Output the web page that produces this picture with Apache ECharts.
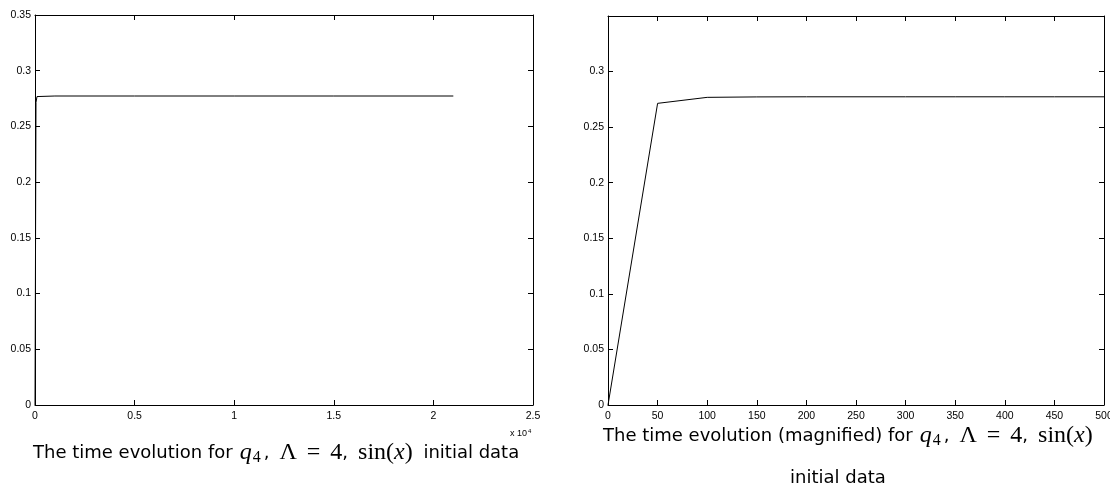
<!DOCTYPE html>
<html><head><meta charset="utf-8">
<script src="https://cdn.jsdelivr.net/npm/echarts@6/dist/echarts.min.js"></script>
<style>html,body{margin:0;padding:0;background:#fff}#c{width:1110px;height:490px}</style>
</head><body><div id="c"></div>
<script>
// Left panel: full time evolution
const leftT = [0, 50, 100, 150, 200, 1000, 5000, 10000, 15000, 21000];
const leftQ = [0, 0.2715, 0.2768, 0.2772, 0.2773, 0.2773, 0.2773, 0.2773, 0.2773, 0.2773];
// Right panel: magnified
const rightT = [0, 50, 100, 150, 200, 250, 300, 350, 400, 450, 500];
const rightQ = [0, 0.2714, 0.2768, 0.2772, 0.2773, 0.2773, 0.2773, 0.2773, 0.2773, 0.2773, 0.2773];
const leftXTicks = ['0', '0.5', '1', '1.5', '2', '2.5'];
const yTicksLeft = ['0', '0.05', '0.1', '0.15', '0.2', '0.25', '0.3', '0.35'];
const yTicksRight = ['0', '0.05', '0.1', '0.15', '0.2', '0.25', '0.3'];

const chart = echarts.init(document.getElementById('c'));
const lab = {color:'#000', fontSize:10.5, fontFamily:'Liberation Sans, Arial, sans-serif'};
const axLine = {show:true, onZero:false, lineStyle:{color:'#000', width:1}};
const tickIn = {show:true, inside:true, length:5, lineStyle:{color:'#000', width:1}};

function xAx(grid, max, interval, fmt, pos, show) {
  return {type:'value', gridIndex:grid, min:0, max:max, interval:interval, position:pos,
    axisLine:axLine, axisTick:tickIn, splitLine:{show:false},
    axisLabel: show ? Object.assign({margin:6, formatter:fmt, showMaxLabel:true, showMinLabel:true}, lab) : {show:false}};
}
function yAx(grid, fmt, pos, show) {
  return {type:'value', gridIndex:grid, min:0, max:0.35, interval:0.05, position:pos,
    axisLine:axLine, axisTick:tickIn, splitLine:{show:false},
    axisLabel: show ? Object.assign({margin:4, formatter:fmt}, lab) : {show:false}};
}
const fmtLX = v => leftXTicks[Math.round(v/5000)];
const fmtLY = v => yTicksLeft[Math.round(v/0.05)];
const fmtRY = v => { const i = Math.round(v/0.05); return i < yTicksRight.length ? yTicksRight[i] : ''; };

const sans = '"DejaVu Sans", sans-serif';
const mserif = '"Liberation Serif", serif';
const capRich = {
  t:{fontFamily:sans, fontSize:18, fill:'#000'},
  w:{fontFamily:sans, fontSize:18, fill:'#000', padding:[0,0,0,5]},
  m:{fontFamily:mserif, fontSize:24, fontStyle:'italic', fill:'#000'},
  mq:{fontFamily:mserif, fontSize:24, fontStyle:'italic', fill:'#000', padding:[0,0,0,7]},
  r:{fontFamily:mserif, fontSize:24, fill:'#000'},
  rs:{fontFamily:mserif, fontSize:24, fill:'#000', padding:[0,0,0,10]},
  eq:{fontFamily:mserif, fontSize:24, fill:'#000', padding:[0,10,0,10]},
  s:{fontFamily:mserif, fontSize:16, fill:'#000', padding:[10,3,0,1]}
};
const qPart = '{mq|q}{s|4}{t|,}{rs|Λ}{eq|=}{r|4}{t|,}{rs|sin(}{m|x}{r|)}';

chart.setOption({
  animation:false,
  grid:[{left:35, top:15, width:498, height:390, outerBoundsMode:'none', containLabel:false},
        {left:608, top:16, width:496, height:389, outerBoundsMode:'none', containLabel:false}],
  xAxis:[
    xAx(0, 25000, 5000, fmtLX, 'bottom', true),
    xAx(0, 25000, 5000, null, 'top', false),
    xAx(1, 500, 50, v => String(v), 'bottom', true),
    xAx(1, 500, 50, null, 'top', false)
  ],
  yAxis:[
    yAx(0, fmtLY, 'left', true),
    yAx(0, null, 'right', false),
    yAx(1, fmtRY, 'left', true),
    yAx(1, null, 'right', false)
  ],
  series:[
    {type:'line', xAxisIndex:0, yAxisIndex:0, data:leftT.map((t,i)=>[t,leftQ[i]]), showSymbol:false, lineStyle:{color:'#000', width:1}},
    {type:'line', xAxisIndex:2, yAxisIndex:2, data:rightT.map((t,i)=>[t,rightQ[i]]), showSymbol:false, lineStyle:{color:'#000', width:1}}
  ],
  graphic:[
    {type:'text', left:510, top:428, style:{text:'{a|x 10}{b|4}', rich:{a:{fontSize:9, fontFamily:'Liberation Sans, Arial', fill:'#000'}, b:{fontSize:6, fontFamily:'Liberation Sans, Arial', fill:'#000', padding:[0,0,6,1]}}}},
    {type:'text', x:33, y:453, style:{align:'left', verticalAlign:'middle', text:'{t|The time evolution for}' + qPart + '{w| initial data}', rich:capRich}},
    {type:'text', x:603, y:436, style:{align:'left', verticalAlign:'middle', text:'{t|The time evolution (magnified) for}' + qPart, rich:capRich}},
    {type:'text', x:838, y:478, style:{align:'center', verticalAlign:'middle', text:'{t|initial data}', rich:capRich}}
  ]
});
</script></body></html>
